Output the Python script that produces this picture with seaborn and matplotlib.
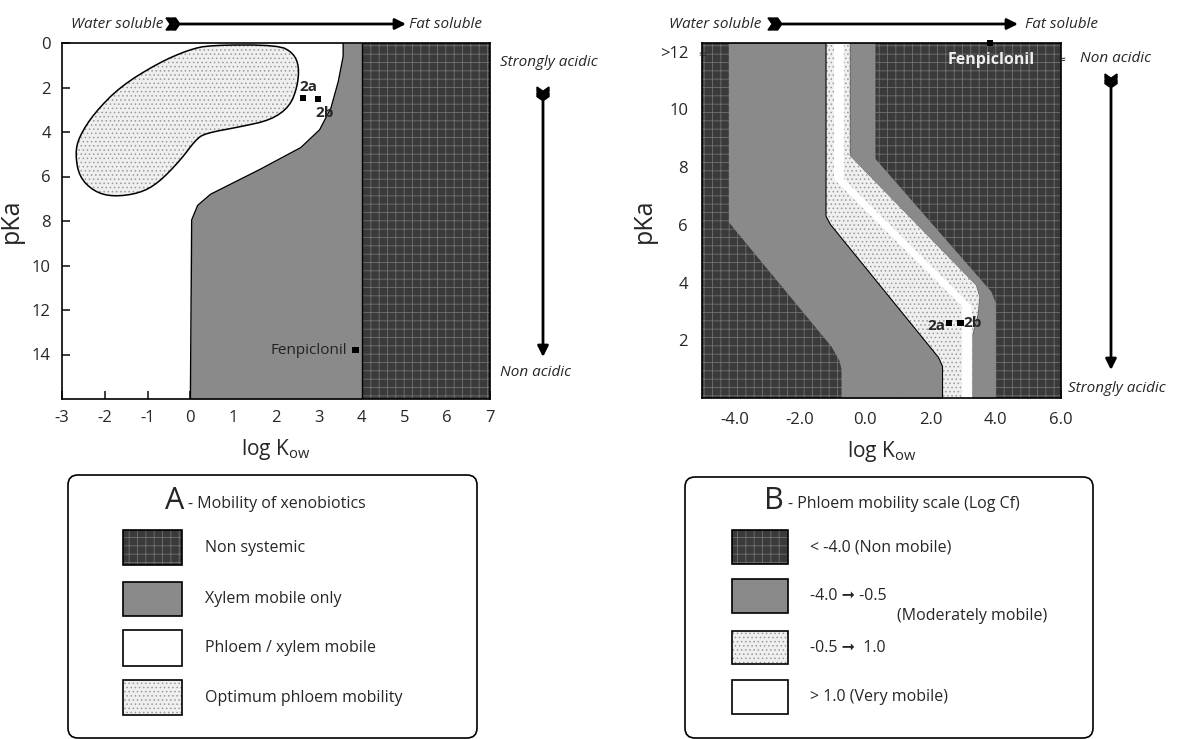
import numpy as np
import matplotlib.pyplot as plt
import seaborn as sns
from matplotlib.patches import Rectangle, FancyBboxPatch, Polygon

W, H = 1178, 739

# ---- panel A : mobility of xenobiotics (log Kow vs pKa)
a_xticks = [-3, -2, -1, 0, 1, 2, 3, 4, 5, 6, 7]
a_yticks = [0, 2, 4, 6, 8, 10, 12, 14]
# left edge of the "xylem mobile only" zone
xylem_pka = [0, 0.6, 1.7, 2.9, 3.9, 4.7, 5.6, 6.8, 7.3, 7.95, 16]
xylem_logk = [3.57, 3.57, 3.46, 3.29, 3.02, 2.58, 1.71, 0.47, 0.17, 0.03, 0.0]
nonsys_logk = 4.0
# outline of the optimum phloem mobility zone
blob_logk = [0.47, 2.06, 2.41, 2.54, 2.50, 2.32, 1.88, 1.18, 0.34, 0.12, -0.23, -0.76,
             -1.20, -1.81, -2.25, -2.60, -2.69, -2.60, -2.25, -1.64, -0.76, -0.05]
blob_pka = [0.09, 0.09, 0.46, 1.06, 1.96, 2.86, 3.46, 3.76, 4.06, 4.36, 5.26, 6.31,
            6.76, 6.91, 6.68, 6.01, 4.96, 4.21, 3.16, 1.96, 0.91, 0.31]
a_names = ['2a', '2b', 'Fenpiclonil']
a_logk = [2.63, 2.98, 3.86]
a_pka = [2.47, 2.52, 13.8]

# ---- panel B : phloem mobility scale (log Cf)
b_xticks = [-4, -2, 0, 2, 4, 6]
b_xlabels = ['-4.0', '-2.0', '0.0', '2.0', '4.0', '6.0']
b_yticks = [2, 4, 6, 8, 10, 12]
b_ylabels = ['2', '4', '6', '8', '10', '>12']
edge1_pka = [0, 1.0, 1.3, 1.8, 6.1, 12.3]
edge1_logk = [-0.74, -0.74, -0.8, -1.05, -4.19, -4.19]
edge2_pka = [0, 1.1, 1.4, 6.0, 6.3, 12.3]
edge2_logk = [2.37, 2.37, 2.25, -1.06, -1.2, -1.2]
edge3_pka = [0, 2.2, 2.9, 3.5, 3.9, 8.4, 12.3]
edge3_logk = [3.29, 3.29, 3.45, 3.5, 3.4, -0.47, -0.47]
edge4_pka = [0, 3.3, 3.7, 8.3, 12.3]
edge4_logk = [3.99, 3.99, 3.85, 0.30, 0.30]
white_pka = [0, 3.2, 7.6, 12.3]
white_lo = [2.95, 2.95, -0.97, -0.97]
white_hi = [3.25, 3.25, -0.67, -0.67]
b_names = ['2a', '2b', 'Fenpiclonil']
b_logk = [2.58, 2.92, 3.82]
b_pka = [2.6, 2.6, 12.3]

legend_a = ['Non systemic', 'Xylem mobile only', 'Phloem / xylem mobile', 'Optimum phloem mobility']
legend_b = ['< -4.0 (Non mobile)', '-4.0 \u279e -0.5', '-0.5 \u279e  1.0', '> 1.0 (Very mobile)']

sns.set_theme(style='white')
plt.rcParams['font.family'] = ['Open Sans', 'DejaVu Sans']
plt.rcParams['axes.unicode_minus'] = False
plt.rcParams['hatch.linewidth'] = 0.6
plt.rcParams['mathtext.fontset'] = 'custom'
plt.rcParams['mathtext.rm'] = 'Open Sans'

dark = dict(facecolor='#3a3a3a', edgecolor='#707070', hatch='++', linewidth=0)
mid = dict(facecolor='#8a8a8a', edgecolor='#8a8a8a', linewidth=0)
light = dict(facecolor='#efefef', edgecolor='#9a9a9a', hatch='....', linewidth=0)
white = dict(facecolor='white', edgecolor='white', linewidth=0)


def chaikin(xs, ys, n=2):
    pts = np.column_stack([xs, ys])
    for _ in range(n):
        nxt = np.roll(pts, -1, axis=0)
        q = 0.75 * pts + 0.25 * nxt
        r = 0.25 * pts + 0.75 * nxt
        pts = np.empty((2 * len(q), 2))
        pts[0::2], pts[1::2] = q, r
    return pts[:, 0], pts[:, 1]


fig = plt.figure(figsize=(W / 100, H / 100), dpi=100)

# ---------------- panel A
ax = fig.add_axes([62 / W, 1 - 399 / H, 428 / W, 356 / H])
q = np.linspace(0, 16, 500)
xe = np.interp(q, xylem_pka, xylem_logk)
ax.fill_betweenx(q, xe, nonsys_logk, **mid)
ax.plot(xe, q, color='black', lw=1)
ax.fill_betweenx(q, nonsys_logk, 7, **dark)
ax.axvline(nonsys_logk, color='black', lw=1)
bx, by = chaikin(blob_logk, blob_pka)
ax.fill(bx, by, **light)
ax.fill(bx, by, facecolor='none', edgecolor='black', lw=1.1)
sns.scatterplot(x=a_logk, y=a_pka, marker='s', color='black', s=22, edgecolor='none', ax=ax, zorder=6)
ax.text(2.76, 1.96, '2a', fontsize=11, fontweight='bold', ha='center', va='center', zorder=7)
ax.text(3.13, 3.16, '2b', fontsize=11, fontweight='bold', ha='center', va='center', zorder=7)
ax.text(a_logk[2] - 0.2, a_pka[2], a_names[2], fontsize=11, color='#222222', ha='right', va='center', zorder=7)
ax.set_xlim(-3, 7)
ax.set_ylim(16, 0)
ax.set_xticks(a_xticks)
ax.set_yticks(a_yticks)
ax.tick_params(direction='in', length=6, labelsize=12, bottom=True, left=True, pad=8)
ax.set_xlabel('log K$_{\\mathrm{ow}}$', fontsize=15, labelpad=8)
ax.set_ylabel('pKa', fontsize=18, labelpad=6)

# ---------------- panel B
bx_ = fig.add_axes([702 / W, 1 - 398 / H, 359 / W, 355 / H])
p = np.linspace(0, 12.3, 500)
e1 = np.interp(p, edge1_pka, edge1_logk)
e2 = np.interp(p, edge2_pka, edge2_logk)
e3 = np.interp(p, edge3_pka, edge3_logk)
e4 = np.interp(p, edge4_pka, edge4_logk)
w1 = np.interp(p, white_pka, white_lo)
w2 = np.interp(p, white_pka, white_hi)
bx_.fill_betweenx(p, -5, 6, **dark)
bx_.fill_betweenx(p, e1, e2, **mid)
bx_.fill_betweenx(p, e2, e3, **light)
bx_.fill_betweenx(p, e3, e4, **mid)
bx_.fill_betweenx(p, w1, w2, **white)
bx_.plot(e2, p, color='black', lw=0.8)
sns.scatterplot(x=b_logk, y=b_pka, marker='s', color='black', s=20, edgecolor='none', ax=bx_, zorder=6)
bx_.collections[-1].set_clip_on(False)
bx_.text(b_logk[0] - 0.12, b_pka[0] - 0.1, '2a', fontsize=11, fontweight='bold', ha='right', va='center', zorder=7)
bx_.text(b_logk[1] + 0.1, b_pka[1], '2b', fontsize=11, fontweight='bold', ha='left', va='center', zorder=7)
bx_.text(3.86, 11.7, b_names[2], fontsize=11.5, color='#eeeeee', fontweight='bold', ha='center', va='center', zorder=7)
bx_.text(-5, 11.85, '\u2248', fontsize=10, ha='center', va='center', clip_on=False)
bx_.text(6, 11.7, '\u2248', fontsize=10, ha='center', va='center', clip_on=False)
bx_.set_xlim(-5, 6)
bx_.set_ylim(0, 12.3)
bx_.set_xticks(b_xticks)
bx_.set_xticklabels(b_xlabels)
bx_.set_yticks(b_yticks)
bx_.set_yticklabels(b_ylabels)
bx_.set_xticks(range(-5, 7), minor=True)
bx_.tick_params(direction='in', length=6, labelsize=12, bottom=True, left=True, pad=10)
bx_.tick_params(which='minor', direction='in', length=18, bottom=True, color='black')
bx_.set_xlabel('log K$_{\\mathrm{ow}}$', fontsize=15, labelpad=8)
bx_.set_ylabel('pKa', fontsize=18, labelpad=2)

for a in (ax, bx_):
    for s in a.spines.values():
        s.set_color('black')
        s.set_linewidth(1.2)

# ---------------- overlay in pixel units : arrows and legends
ov = fig.add_axes([0, 0, 1, 1], zorder=5)
ov.set_xlim(0, W)
ov.set_ylim(H, 0)
ov.axis('off')


def chevrons(x, y, s, down=False):
    base = [(0, -s), (0.7 * s, -s), (1.4 * s, 0), (0.7 * s, s), (0, s), (0.7 * s, 0)]
    for k in range(2):
        off = k * 0.9 * s
        if down:
            pts = [(x + b, y + a + off) for a, b in base]
        else:
            pts = [(x + a + off, y + b) for a, b in base]
        ov.add_patch(Polygon(pts, closed=True, color='black'))


def harrow(x0, x1, y):
    chevrons(x0, y, 6)
    ov.annotate('', xy=(x1, y), xytext=(x0 + 14, y),
                arrowprops=dict(arrowstyle='-|>', lw=2, color='black', mutation_scale=16, shrinkA=0, shrinkB=0))


def varrow(x, y0, y1):
    chevrons(x, y0, 6, down=True)
    ov.annotate('', xy=(x, y1), xytext=(x, y0 + 14),
                arrowprops=dict(arrowstyle='-|>', lw=2, color='black', mutation_scale=16, shrinkA=0, shrinkB=0))


it = dict(fontsize=11, style='italic', va='center')
harrow(166, 406, 24)
ov.text(163, 24, 'Water soluble', ha='right', **it)
ov.text(409, 24, 'Fat soluble', ha='left', **it)
varrow(543, 87, 357)
ov.text(500, 63, 'Strongly acidic', ha='left', **it)
ov.text(500, 372, 'Non acidic', ha='left', **it)

harrow(768, 1018, 24)
ov.text(761, 24, 'Water soluble', ha='right', **it)
ov.text(1025, 24, 'Fat soluble', ha='left', **it)
varrow(1111, 74, 370)
ov.text(1080, 58, 'Non acidic', ha='left', **it)
ov.text(1068, 388, 'Strongly acidic', ha='left', **it)


def legend_box(x0, x1, y0, y1, letter, title, letter_x, sw_x, rows, labels, styles, text_x):
    ov.add_patch(FancyBboxPatch((x0, y0), x1 - x0, y1 - y0, boxstyle='round,pad=0,rounding_size=10',
                                facecolor='white', edgecolor='black', lw=1.2))
    ov.text(letter_x, 501, letter, fontsize=22, ha='right', va='center')
    ov.text(letter_x + 4, 504, title, fontsize=11.5, ha='left', va='center')
    for (r0, r1), lab, st in zip(rows, labels, styles):
        ov.add_patch(Rectangle((sw_x[0], r0), sw_x[1] - sw_x[0], r1 - r0, **st))
        ov.add_patch(Rectangle((sw_x[0], r0), sw_x[1] - sw_x[0], r1 - r0, facecolor='none',
                               edgecolor='black', lw=1.2))
        ov.text(text_x, (r0 + r1) / 2, lab, fontsize=11.5, ha='left', va='center')


legend_box(68, 477, 475, 738, 'A', '- Mobility of xenobiotics', 184, (123, 182),
           [(530, 565), (582, 616), (630, 666), (680, 715)], legend_a, [dark, mid, white, light], 205)
legend_box(685, 1093, 477, 738, 'B', '- Phloem mobility scale (Log Cf)', 784, (732, 788),
           [(530, 564), (579, 613), (631, 664), (680, 714)], legend_b, [dark, mid, light, white], 810)
ov.text(897, 616, '(Moderately mobile)', fontsize=11.5, ha='left', va='center')

fig.savefig('out.png', dpi=100)
